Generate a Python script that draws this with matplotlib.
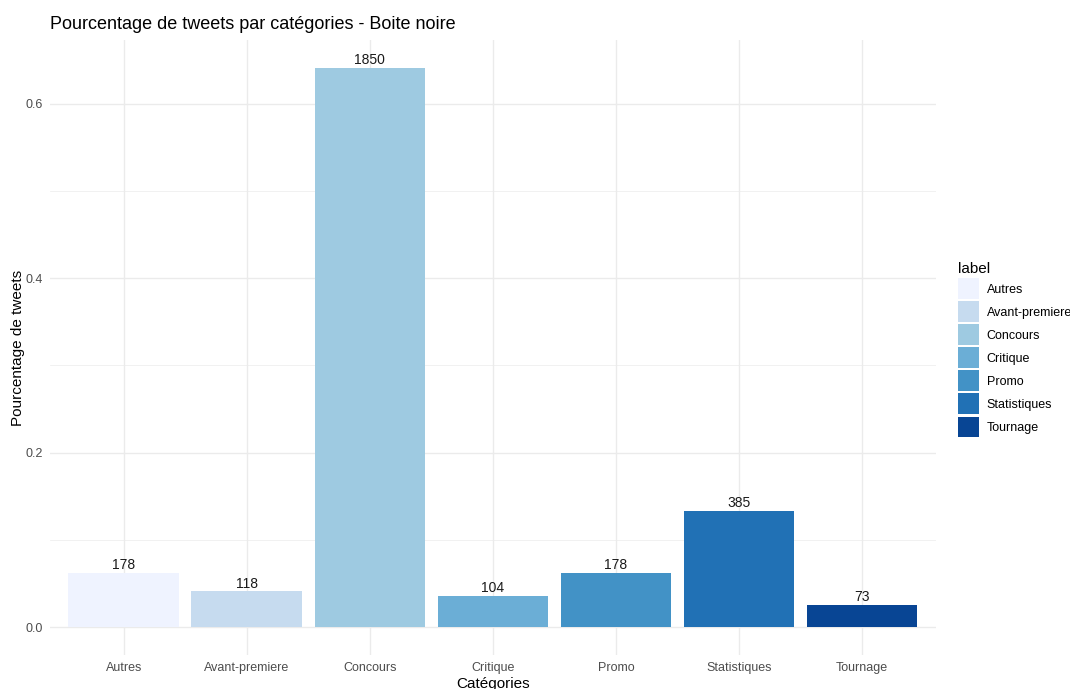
import matplotlib.pyplot as plt
import matplotlib.patches as mpatches
from matplotlib.ticker import MultipleLocator

categories = ['Autres', 'Avant-premiere', 'Concours', 'Critique', 'Promo', 'Statistiques', 'Tournage']
counts = [178, 118, 1850, 104, 178, 385, 73]
colors = ['#EFF3FF', '#C6DBEF', '#9ECAE1', '#6BAED6', '#4292C6', '#2171B5', '#084594']

total = sum(counts)
pct = [c / total for c in counts]

plt.rcParams['font.family'] = ['Liberation Sans', 'DejaVu Sans']

fig = plt.figure(figsize=(10.7, 6.89), dpi=100)
ax = fig.add_axes([0.0467, 0.0493, 0.828, 0.8927])

x = range(1, len(categories) + 1)
ax.bar(x, pct, width=0.9, color=colors, edgecolor='none', zorder=2)
for xi, p, c in zip(x, pct, counts):
    ax.text(xi, p + 0.001, str(c), ha='center', va='bottom', fontsize=10, color='#1a1a1a', zorder=3)

ymax = max(pct)
ax.set_xlim(0.4, len(categories) + 0.6)
ax.set_ylim(-ymax * 0.05, ymax * 1.05)
ax.set_xticks(list(x))
ax.set_xticklabels(categories)
ax.yaxis.set_major_locator(MultipleLocator(0.2))
ax.yaxis.set_minor_locator(MultipleLocator(0.1))
ax.yaxis.set_major_formatter(plt.FuncFormatter(lambda v, _: f'{v:.1f}'))

ax.grid(which='major', color='#EBEBEB', linewidth=1.0, zorder=0)
ax.grid(which='minor', axis='y', color='#EBEBEB', linewidth=0.5, zorder=0)
ax.set_axisbelow(True)
for s in ax.spines.values():
    s.set_visible(False)
ax.tick_params(which='both', length=0, labelsize=9, labelcolor='#4D4D4D')
ax.tick_params(axis='x', pad=5)
ax.tick_params(axis='y', pad=5)

ax.set_title('Pourcentage de tweets par catégories - Boite noire', loc='left', fontsize=13, pad=8)
ax.set_xlabel('Catégories', fontsize=11, labelpad=2)
ax.set_ylabel('Pourcentage de tweets', fontsize=11, labelpad=0.5)

handles = [mpatches.Patch(facecolor=c, edgecolor='none', label=l) for c, l in zip(colors, categories)]
leg = fig.legend(handles=handles, title='label', loc='upper left', bbox_to_anchor=(0.885, 0.636),
                 frameon=False, fontsize=9, title_fontsize=11,
                 handlelength=1.68, handleheight=2.2, labelspacing=0.17, handletextpad=0.6,
                 alignment='left')

fig.savefig('out.png', dpi=100)
